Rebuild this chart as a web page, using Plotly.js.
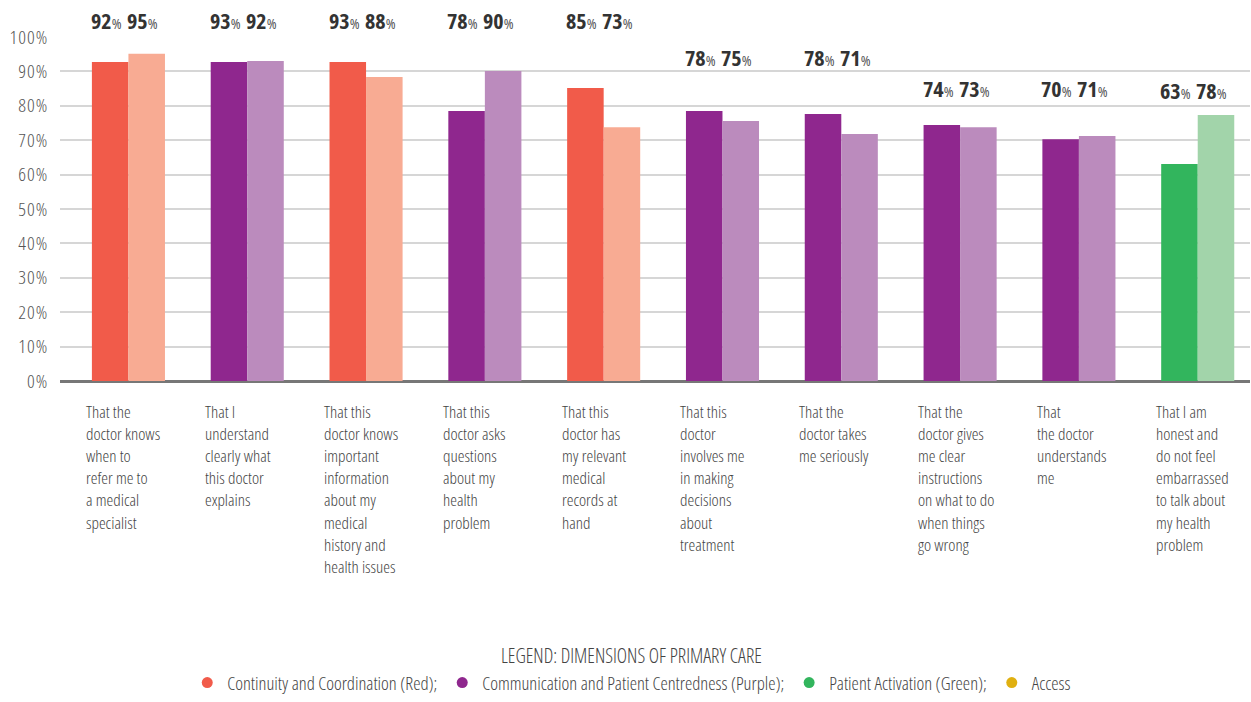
<!DOCTYPE html>
<html>
<head>
<meta charset="utf-8">
<script src="https://cdn.plot.ly/plotly-3.0.1.min.js"></script>
<style>html,body{margin:0;padding:0;background:#fff;}#chart{width:1251px;height:702px;}
svg text{font-stretch:75%;}
.ytick text{letter-spacing:1px;}</style>
</head>
<body>
<div id="chart"></div>
<script>
// ---- data ----
const categories = [
  "That the<br>doctor knows<br>when to<br>refer me to<br>a medical<br>specialist",
  "That I<br>understand<br>clearly what<br>this doctor<br>explains",
  "That this<br>doctor knows<br>important<br>information<br>about my<br>medical<br>history and<br>health issues",
  "That this<br>doctor asks<br>questions<br>about my<br>health<br>problem",
  "That this<br>doctor has<br>my relevant<br>medical<br>records at<br>hand",
  "That this<br>doctor<br>involves me<br>in making<br>decisions<br>about<br>treatment",
  "That the<br>doctor takes<br>me seriously",
  "That the<br>doctor gives<br>me clear<br>instructions<br>on what to do<br>when things<br>go wrong",
  "That<br>the doctor<br>understands<br>me",
  "That I am<br>honest and<br>do not feel<br>embarrassed<br>to talk about<br>my health<br>problem"
];
const dimension = ["red","purple","red","purple","red","purple","purple","purple","purple","green"];
const seriesA = [92.7, 92.7, 92.7, 78.5, 85.2, 78.5, 77.6, 74.4, 70.3, 63.1];
const seriesB = [95.1, 93.0, 88.4, 90.1, 73.8, 75.6, 71.8, 73.8, 71.2, 77.3];
const labelsA = [92, 93, 93, 78, 85, 78, 78, 74, 70, 63];
const labelsB = [95, 92, 88, 90, 73, 75, 71, 73, 71, 78];
const yTickVals = [0,10,20,30,40,50,60,70,80,90,100];
const yTickText = ["0%","10%","20%","30%","40%","50%","60%","70%","80%","90%","100%"];
const legendNames = ["Continuity and Coordination (Red);","Communication and Patient Centredness (Purple);","Patient Activation (Green);","Access"];
const legendKeys = ["red","purple","green","yellow"];
const legendTitle = "LEGEND: DIMENSIONS OF PRIMARY CARE";

// ---- styles ----
const darkColor = {red:"#f15b4a", purple:"#8f278e", green:"#32b55d", yellow:"#e0b010"};
const lightColor = {red:"#f8ab93", purple:"#bb8bbd", green:"#a2d4aa", yellow:"#f0d880"};
const FONT = '"Open Sans","Noto Sans",sans-serif';
const labelLevels = [1.049,1.049,1.049,1.049,1.049,0.942,0.942,0.852,0.852,0.846];

const idx = categories.map((c,i)=>i);
const traces = [
  {type:"bar", x:idx, y:seriesA, marker:{color:dimension.map(d=>darkColor[d])}, showlegend:false, hoverinfo:"skip"},
  {type:"bar", x:idx, y:seriesB, marker:{color:dimension.map(d=>lightColor[d])}, showlegend:false, hoverinfo:"skip"}
];
legendNames.forEach((n,i)=>{
  traces.push({type:"scatter", mode:"markers", x:[null], y:[null], name:n,
    marker:{color:darkColor[legendKeys[i]], size:11, symbol:"circle"}});
});

const annotations = [];
const pct = v => "<b>"+v+"</b><span style=\"font-size:15px;font-weight:normal;color:#555\">%</span>";
idx.forEach(i=>{
  annotations.push({x:i, y:0, xref:"x", yref:"paper", xanchor:"left", yanchor:"top",
    xshift:-44, yshift:-17, align:"left", showarrow:false, text:categories[i],
    font:{family:FONT, size:17, weight:300, color:"#444"}});
  [[labelsA[i],-22],[labelsB[i],14]].forEach(([v,sh])=>{
    annotations.push({x:i, y:labelLevels[i], xref:"x", yref:"paper", xanchor:"center", yanchor:"middle",
      xshift:sh, showarrow:false, text:pct(v),
      font:{family:FONT, size:22, color:"#333"}});
  });
});
annotations.push({x:0.48, xref:"paper", y:0, yref:"paper", yshift:-274, xanchor:"center", yanchor:"middle",
  showarrow:false, text:legendTitle, font:{family:FONT, size:19.5, weight:300, color:"#444"}});

const layout = {
  width:1251, height:702,
  margin:{l:60, r:1, t:37, b:321},
  paper_bgcolor:"#fff", plot_bgcolor:"#fff",
  barmode:"group", bargap:0.385, bargroupgap:0,
  font:{family:FONT, color:"#555"},
  xaxis:{range:[-0.576, 9.44], showticklabels:false, showgrid:false, zeroline:false, showline:false, ticks:"", fixedrange:true},
  yaxis:{range:[0,100], tickvals:yTickVals, ticktext:yTickText, showgrid:true, gridcolor:"#d6d6d6", gridwidth:2,
    zeroline:true, zerolinecolor:"#777", zerolinewidth:3, showline:false, ticks:"outside", ticklen:7, tickcolor:"rgba(0,0,0,0)",
    tickfont:{family:FONT, size:19, weight:300, color:"#555"}, fixedrange:true},
  showlegend:true,
  legend:{orientation:"h", xref:"container", yref:"container", x:0.505, y:0, xanchor:"center", yanchor:"bottom",
    font:{family:FONT, size:18.5, weight:300, color:"#444"}, itemwidth:30, traceorder:"normal", bgcolor:"rgba(0,0,0,0)"},
  annotations:annotations
};
Plotly.newPlot("chart", traces, layout, {displayModeBar:false, staticPlot:true});
</script>
</body>
</html>
